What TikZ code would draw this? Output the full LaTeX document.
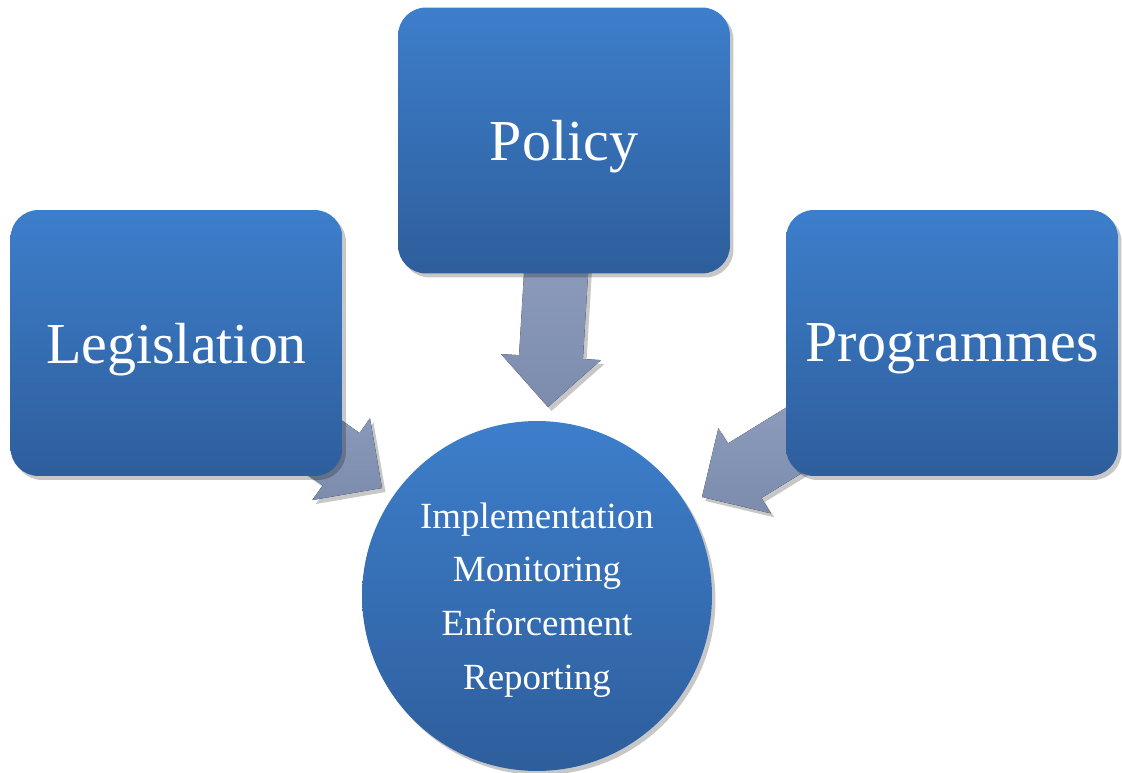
\documentclass[tikz,border=0pt]{standalone}
\usepackage{fontspec}
\setmainfont{Liberation Serif}
\usetikzlibrary{calc,shadows,backgrounds}
\definecolor{boxtop}{RGB}{61,126,203}
\definecolor{boxbot}{RGB}{46,94,156}
\definecolor{flowtop}{RGB}{154,168,198}
\definecolor{flowbot}{RGB}{124,140,173}

\begin{document}
\begin{tikzpicture}[x=0.02cm,y=0.02cm]
  \tikzstyle{softshadow}=[drop shadow={shadow xshift=0.07cm,shadow yshift=-0.08cm,opacity=0.22,fill=black}]
  \tikzstyle{box}=[rectangle,rounded corners=0.56cm,top color=boxtop,bottom color=boxbot,
    minimum width=6.64cm,minimum height=5.32cm,text=white,text depth=0pt,inner sep=0pt,
    font=\fontsize{33}{40}\selectfont,softshadow]
  \tikzstyle{hub}=[circle,top color=boxtop,bottom color=boxbot,minimum size=7cm,inner sep=0pt,
    text=white,text depth=0pt,align=center,font=\fontsize{21}{30.6}\selectfont,softshadow]
  \tikzstyle{flow}=[top color=flowtop,bottom color=flowbot,softshadow]

  \useasboundingbox (0,0) rectangle (1122,773);

  % boxes and hub
  \node[box] (pol) at (564,632.5) {Policy};
  \node[box] (leg) at (176.5,430) {Legislation};
  \node[box] (prog) at (952,430) {Programmes};
  \node[hub] (hub) at (537,177) {Implementation\\Monitoring\\Enforcement\\Reporting};

  % arrow tips
  \coordinate (poltip) at (548,366);
  \coordinate (legtip) at (382,285);
  \coordinate (progtip) at (702,276);

  % wide arrows behind the boxes
  \begin{pgfonlayer}{background}
    \foreach \s/\t in {pol/poltip,leg/legtip,prog/progtip}{
      \coordinate (b) at ($(\t)!1cm!(\s.center)$);
      \fill[flow] ($(\s.center)!0.64cm!90:(\t)$) -- ($(b)!0.64cm!90:(\t)$)
        -- ($(b)!1cm!90:(\t)$) -- (\t) -- ($(b)!1cm!-90:(\t)$)
        -- ($(b)!0.64cm!-90:(\t)$) -- ($(\s.center)!0.64cm!-90:(\t)$) -- cycle;
    }
  \end{pgfonlayer}
\end{tikzpicture}
\end{document}
